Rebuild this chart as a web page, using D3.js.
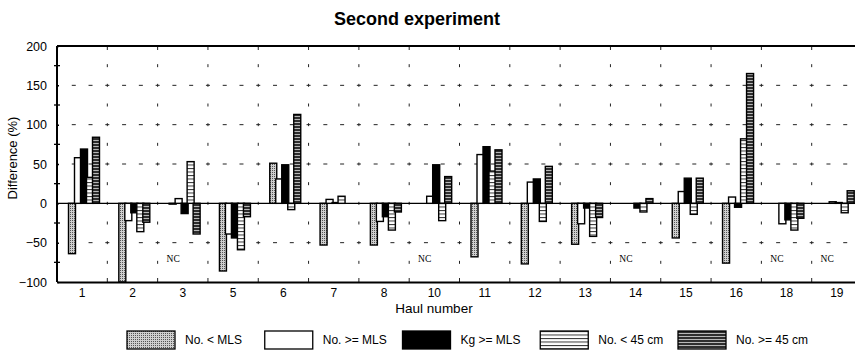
<!DOCTYPE html>
<html>
<head>
<meta charset="utf-8">
<script src="https://cdn.jsdelivr.net/npm/d3@7"></script>
<style>
  body { margin: 0; background: #fff; }
  svg { display: block; font-family: "Liberation Sans", Arial, Helvetica, sans-serif; }
</style>
</head>
<body>
<svg id="chart" width="855" height="352"></svg>
<script>
// haul numbers on the x axis
const hauls = ['1', '2', '3', '5', '6', '7', '8', '10', '11', '12', '13', '14', '15', '16', '18', '19'];

// difference (%) per haul, one array per series
const noBelowMLS  = [-64, -100, -1, -86, 51, -53, -53, 0, -68, -77, -52, 0, -44, -76, 0, 0];
const noAboveMLS  = [58, -22, 6, -39, 31, 5, -23, 9, 62, 27, -26, 0, 15, 8, -26, 2];
const kgAboveMLS  = [69, -12, -13, -44, 49, 1, -17, 49, 72, 31, -6, -6, 32, -5, -21, 1];
const noBelow45   = [33, -36, 53, -59, -8, 9, -34, -22, 41, -23, -42, -11, -14, 82, -34, -12];
const noAbove45   = [84, -24, -39, -17, 113, 0, -11, 34, 68, 47, -18, 6, 32, 165, -19, 16];

const seriesNames = ['No. < MLS', 'No. >= MLS', 'Kg >= MLS', 'No. < 45 cm', 'No. >= 45 cm'];
const seriesFills = ['url(#stipple)', '#fff', '#000', 'url(#lightStripe)', 'url(#darkStripe)'];
const series = [noBelowMLS, noAboveMLS, kgAboveMLS, noBelow45, noAbove45];

// hauls marked "NC" on the chart
const ncHauls = ['3', '10', '14', '18', '19'];

const yTicks = [-100, -50, 0, 50, 100, 150, 200];
const yMinor = [-75, -25, 25, 75, 125, 175];
const yGrid = [-50, 50, 100, 150];

const svg = d3.select('#chart');

const x = d3.scaleBand()
  .domain(hauls)
  .range([57, 862])
  .padding(0);

const y = d3.scaleLinear()
  .domain([-100, 200])
  .range([282, 46]);

const bw = x.bandwidth();

// fill patterns
const defs = svg.append('defs');

const stipple = defs.append('pattern')
  .attr('id', 'stipple')
  .attr('patternUnits', 'userSpaceOnUse')
  .attr('width', 2).attr('height', 2);
stipple.append('rect').attr('width', 2).attr('height', 2).attr('fill', '#cfcfcf');
stipple.append('rect').attr('width', 1).attr('height', 1).attr('fill', '#555');

const light = defs.append('pattern')
  .attr('id', 'lightStripe')
  .attr('patternUnits', 'userSpaceOnUse')
  .attr('width', 4).attr('height', 3.5);
light.append('rect').attr('width', 4).attr('height', 3.5).attr('fill', '#fff');
light.append('rect').attr('width', 4).attr('height', 1).attr('fill', '#333');

const dark = defs.append('pattern')
  .attr('id', 'darkStripe')
  .attr('patternUnits', 'userSpaceOnUse')
  .attr('width', 4).attr('height', 3);
dark.append('rect').attr('width', 4).attr('height', 3).attr('fill', '#2e2e2e');
dark.append('rect').attr('y', 2).attr('width', 4).attr('height', 1).attr('fill', '#b8b8b8');

// Title
svg.append('text')
  .attr('x', 417)
  .attr('y', 25)
  .attr('text-anchor', 'middle')
  .attr('font-size', 18)
  .attr('font-weight', 'bold')
  .text('Second experiment');

// Grid: short vertical marks at band boundaries
const boundaries = hauls.slice(1).map(h => x(h));
const levels = d3.range(-100, 201, 25);

const grid = svg.append('g').attr('stroke', '#222').attr('stroke-width', 1);

boundaries.forEach(bx => {
  levels.forEach(v => {
    let y0 = y(v) - 1.5, y1 = y(v) + 1.5;
    if (v === -100) { y0 = y(v) - 4; y1 = y(v); }
    if (v === 200) { y0 = y(v); y1 = y(v) + 4; }
    grid.append('line')
      .attr('x1', bx).attr('x2', bx)
      .attr('y1', y0).attr('y2', y1);
  });
});

// horizontal dashed lines
yGrid.forEach(v => {
  hauls.forEach(h => {
    [bw / 3, 2 * bw / 3, bw].forEach(off => {
      const cx = x(h) + off;
      if (cx > 855) return;
      grid.append('line')
        .attr('x1', cx - 2).attr('x2', cx + 2)
        .attr('y1', y(v)).attr('y2', y(v));
    });
  });
});

// zero line
svg.append('line')
  .attr('x1', 57).attr('x2', 862)
  .attr('y1', y(0)).attr('y2', y(0))
  .attr('stroke', '#000')
  .attr('stroke-width', 1.3);

// Bars
const barW = 7;
const barStep = 6;
const barOff = 11.5;

series.forEach((vals, i) => {
  svg.append('g')
    .selectAll('rect')
    .data(vals.map((v, j) => ({haul: hauls[j], v})))
    .join('rect')
    .attr('x', d => x(d.haul) + barOff + i * barStep)
    .attr('width', barW)
    .attr('y', d => Math.min(y(d.v), y(0)))
    .attr('height', d => Math.abs(y(d.v) - y(0)))
    .attr('fill', seriesFills[i])
    .attr('stroke', '#000')
    .attr('stroke-width', 1.4);
});

// NC labels
svg.append('g')
  .selectAll('text')
  .data(ncHauls)
  .join('text')
  .attr('x', d => x(d) + 15.5)
  .attr('y', y(-70))
  .attr('dy', '0.35em')
  .attr('text-anchor', 'middle')
  .attr('font-family', '"Liberation Serif", "Times New Roman", serif')
  .attr('font-size', 9.5)
  .text('NC');

// Y axis
const yAxis = d3.axisLeft(y)
  .tickValues(yTicks)
  .tickSize(7)
  .tickPadding(3)
  .tickFormat(d3.format('d'));

const axisY = svg.append('g')
  .attr('transform', 'translate(57,0)')
  .call(yAxis);

axisY.select('.domain').attr('stroke-width', 2).attr('d', `M0,${y(200)}V${y(-100)}`);
axisY.selectAll('.tick line').attr('stroke-width', 1.5).attr('x2', 2);
axisY.selectAll('.tick text').attr('font-size', 12.5).attr('font-family', '"Liberation Sans", Arial, sans-serif');

axisY.append('g')
  .selectAll('line')
  .data(yMinor)
  .join('line')
  .attr('x1', -3).attr('x2', 3)
  .attr('y1', d => y(d)).attr('y2', d => y(d))
  .attr('stroke', '#000')
  .attr('stroke-width', 1.3);

// top frame
svg.append('line')
  .attr('x1', 57).attr('x2', 862)
  .attr('y1', y(200)).attr('y2', y(200))
  .attr('stroke', '#000')
  .attr('stroke-width', 2);

// X axis
const xAxis = d3.axisBottom(x)
  .tickSize(0)
  .tickPadding(6);

const axisX = svg.append('g')
  .attr('transform', `translate(0,${y(-100)})`)
  .call(xAxis);

axisX.select('.domain').attr('stroke-width', 2);
axisX.selectAll('.tick text')
  .attr('font-size', 12)
  .attr('font-family', '"Liberation Sans Narrow", "Arial Narrow", "Liberation Sans", sans-serif');

// Axis titles
svg.append('text')
  .attr('x', 434)
  .attr('y', 313)
  .attr('text-anchor', 'middle')
  .attr('font-size', 13.5)
  .attr('font-family', '"Liberation Sans Narrow", "Arial Narrow", "Liberation Sans", sans-serif')
  .text('Haul number');

svg.append('text')
  .attr('transform', `translate(17,${(y(200) + y(-100)) / 2 - 6}) rotate(-90)`)
  .attr('text-anchor', 'middle')
  .attr('font-size', 13)
  .text('Difference (%)');

// Legend
const legendX = d3.scaleLinear().domain([0, 4]).range([127, 678]);

const legend = svg.append('g')
  .selectAll('g')
  .data(seriesNames)
  .join('g')
  .attr('transform', (d, i) => `translate(${legendX(i)},331)`);

legend.append('rect')
  .attr('width', 48)
  .attr('height', 18)
  .attr('fill', (d, i) => seriesFills[i])
  .attr('stroke', '#000')
  .attr('stroke-width', 1.3);

legend.append('text')
  .attr('x', 58)
  .attr('y', 13)
  .attr('font-size', 12)
  .text(d => d);
</script>
</body>
</html>
